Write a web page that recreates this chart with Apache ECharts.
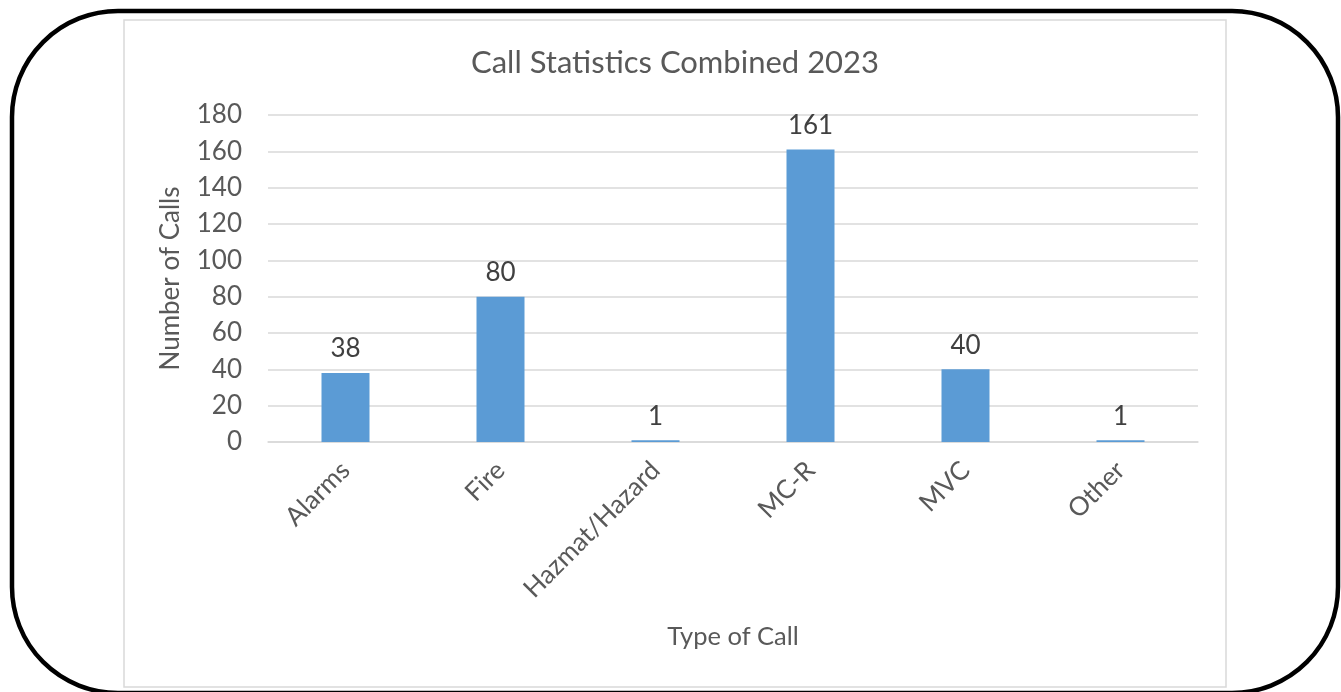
<!DOCTYPE html>
<html>
<head>
<meta charset="utf-8">
<script src="https://cdn.jsdelivr.net/npm/echarts@6/dist/echarts.min.js"></script>
<style>
html,body{margin:0;padding:0;background:#fff;}
#chart{width:1341px;height:692px;}
</style>
</head>
<body>
<div id="chart"></div>
<script>
const titleText = 'Call Statistics Combined 2023';
const categories = ['Alarms', 'Fire', 'Hazmat/Hazard', 'MC-R', 'MVC', 'Other'];
const callCounts = [38, 80, 1, 161, 40, 1];
const yTicks = [0, 20, 40, 60, 80, 100, 120, 140, 160, 180];
const xAxisName = 'Type of Call';
const yAxisName = 'Number of Calls';

const FONT = 'Lato, "Open Sans", sans-serif';
const chart = echarts.init(document.getElementById('chart'), null, {renderer: 'canvas'});
chart.setOption({
  backgroundColor: '#ffffff',
  animation: false,
  title: {
    text: titleText,
    left: 466, top: 42,
    textStyle: {fontFamily: FONT, fontSize: 31, fontWeight: 'normal', color: '#595959'}
  },
  graphic: [
    {type: 'rect', z: -1, shape: {x: 124, y: 20, width: 1102, height: 667},
     style: {fill: 'none', stroke: '#d9d9d9', lineWidth: 1.5}},
    {type: 'rect', z: 100, shape: {x: 12, y: 11, width: 1326, height: 682, r: 106},
     style: {fill: 'none', stroke: '#000', lineWidth: 4.5}}
  ],
  grid: {left: 268, right: 143, top: 115, bottom: 250, containLabel: false, outerBoundsMode: 'none'},
  xAxis: {
    type: 'category',
    data: categories,
    name: xAxisName,
    nameLocation: 'middle',
    nameGap: 182,
    nameTextStyle: {fontFamily: FONT, fontSize: 25.5, color: '#595959'},
    axisLine: {show: true, lineStyle: {color: '#d9d9d9', width: 1.5}},
    axisTick: {show: false},
    axisLabel: {rotate: 45, margin: 24, fontFamily: FONT, fontSize: 26, color: '#595959', interval: 0}
  },
  yAxis: {
    type: 'value',
    min: yTicks[0], max: yTicks[yTicks.length - 1], interval: yTicks[1] - yTicks[0],
    name: yAxisName,
    nameLocation: 'middle',
    nameGap: 84,
    nameRotate: 90,
    nameTextStyle: {fontFamily: FONT, fontSize: 26, color: '#595959'},
    axisLine: {show: false},
    axisTick: {show: false},
    axisLabel: {margin: 26, fontFamily: FONT, fontSize: 26, color: '#595959'},
    splitLine: {show: true, lineStyle: {color: '#d9d9d9', width: 1.5}}
  },
  series: [{
    type: 'bar',
    data: callCounts,
    barWidth: 48,
    itemStyle: {color: '#5b9bd5'},
    label: {show: true, position: 'top', distance: 11, fontFamily: FONT, fontSize: 26, color: '#404040'}
  }]
});
</script>
</body>
</html>
